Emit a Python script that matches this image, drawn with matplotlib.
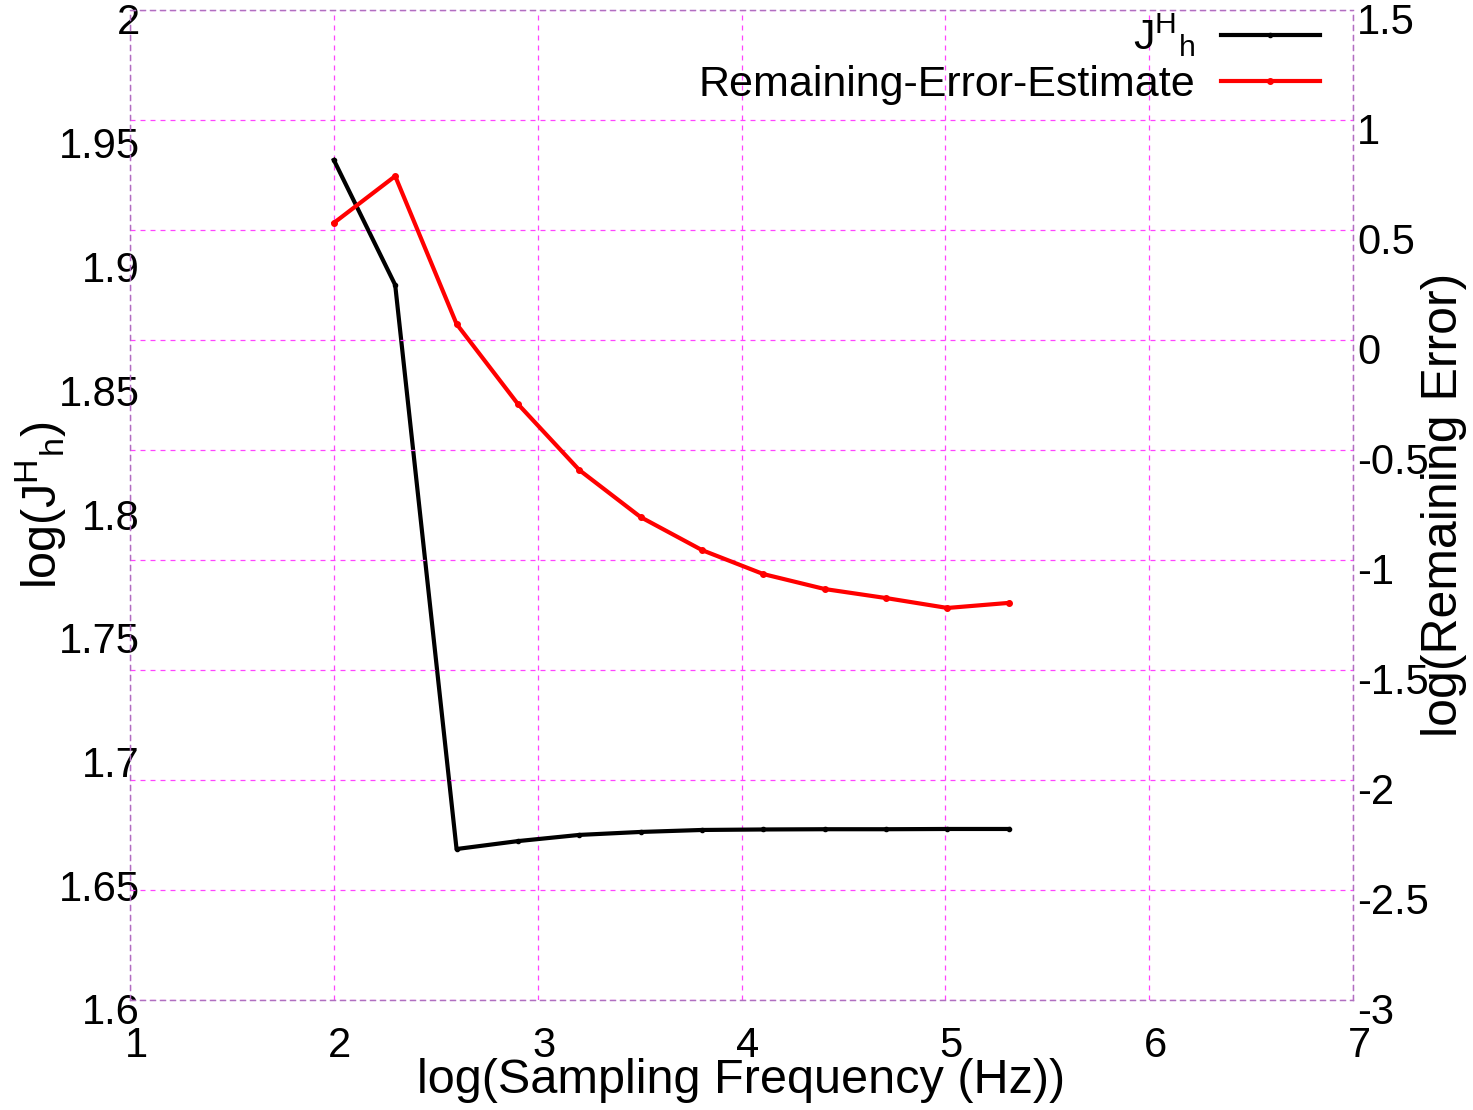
import matplotlib
matplotlib.use("Agg")
import matplotlib.pyplot as plt
import matplotlib.transforms as mtransforms

plt.rcParams['font.family'] = ['Liberation Sans', 'DejaVu Sans']
plt.rcParams['mathtext.fontset'] = 'custom'
plt.rcParams['mathtext.rm'] = 'Liberation Sans'
plt.rcParams['mathtext.it'] = 'Liberation Sans'

# data
log_freq = [2.0, 2.30103, 2.60206, 2.90309, 3.20412, 3.50515, 3.80618,
            4.10721, 4.40824, 4.70927, 5.0103, 5.31133]
log_J = [1.9394, 1.8889, 1.6610, 1.6642, 1.6667, 1.6679, 1.6687,
         1.6689, 1.6690, 1.6690, 1.6691, 1.6691]
log_err = [0.532, 0.745, 0.073, -0.291, -0.591, -0.805, -0.955,
           -1.064, -1.132, -1.173, -1.218, -1.195]

xticks = [1, 2, 3, 4, 5, 6, 7]
yticks_left = [1.6, 1.65, 1.7, 1.75, 1.8, 1.85, 1.9, 1.95, 2.0]
yticks_left_labels = ['1.6', '1.65', '1.7', '1.75', '1.8', '1.85', '1.9', '1.95', '2']
yticks_right = [-3, -2.5, -2, -1.5, -1, -0.5, 0, 0.5, 1, 1.5]
yticks_right_labels = ['-3', '-2.5', '-2', '-1.5', '-1', '-0.5', '0', '0.5', '1', '1.5']

fs = 30
lab_fs = 35
grid_color = '#ff44ff'
frame_color = '#b070c0'

fig = plt.figure(figsize=(14.73, 11.10), dpi=100)
ax = fig.add_axes([130/1473, 1 - 1000/1110, (1353-130)/1473, (1000-10)/1110])
ax2 = ax.twinx()

l1, = ax.plot(log_freq, log_J, color='black', lw=3, marker='o', ms=3,
              label=r'$\mathrm{J}^{\mathrm{H}}{}_{\mathrm{h}}$', zorder=3)
l2, = ax2.plot(log_freq, log_err, color='#ff0000', lw=3, marker='o', ms=4,
               label='Remaining-Error-Estimate', zorder=3)

ax.set_xlim(1, 7)
ax.set_ylim(1.6, 2.0)
ax2.set_ylim(-3, 1.5)

ax.set_xticks(xticks)
ax.set_xticklabels([str(v) for v in xticks])
ax.set_yticks(yticks_left)
ax.set_yticklabels(yticks_left_labels)
ax2.set_yticks(yticks_right)
ax2.set_yticklabels(yticks_right_labels)

ax.tick_params(axis='x', length=0, pad=19, labelsize=fs)
ax.tick_params(axis='y', length=0, pad=-7, labelsize=fs)
ax2.tick_params(axis='y', length=0, pad=3, labelsize=fs)

# small offsets of tick labels as in the reference
off_y = mtransforms.ScaledTranslation(0, -9/100, fig.dpi_scale_trans)
for lab in ax.get_yticklabels() + ax2.get_yticklabels():
    lab.set_transform(lab.get_transform() + off_y)
off_x = mtransforms.ScaledTranslation(6/100, 0, fig.dpi_scale_trans)
for lab in ax.get_xticklabels():
    lab.set_transform(lab.get_transform() + off_x)

# grid: vertical from x ticks, horizontal from right axis ticks
ax.grid(True, axis='x', color=grid_color, linestyle=(0, (4, 4)), linewidth=0.9)
ax.grid(False, axis='y')
ax2.grid(True, axis='y', color=grid_color, linestyle=(0, (4, 4)), linewidth=0.9, zorder=0)
for ax_ in (ax, ax2):
    for sp in ax_.spines.values():
        sp.set_color(frame_color)
        sp.set_linestyle((0, (4, 4)))
        sp.set_linewidth(0.9)

ax.set_xlabel('log(Sampling Frequency (Hz))', fontsize=lab_fs, labelpad=-6)
ax.set_ylabel(r'log($\mathrm{J}^{\mathrm{H}}{}_{\mathrm{h}}$)', fontsize=lab_fs)
ax.yaxis.set_label_coords(-0.05, 0.5)
ax2.set_ylabel('log(Remaining Error)', fontsize=lab_fs + 1)
ax2.yaxis.set_label_coords(1.056, 0.5)

leg = ax2.legend([l1, l2], [l1.get_label(), l2.get_label()], loc='upper right',
                 frameon=False, markerfirst=False, fontsize=31,
                 handlelength=2.3, handletextpad=0.6, labelspacing=0.15,
                 borderaxespad=0.0, bbox_to_anchor=(0.987, 1.016))

fig.savefig('out.png', dpi=100)
